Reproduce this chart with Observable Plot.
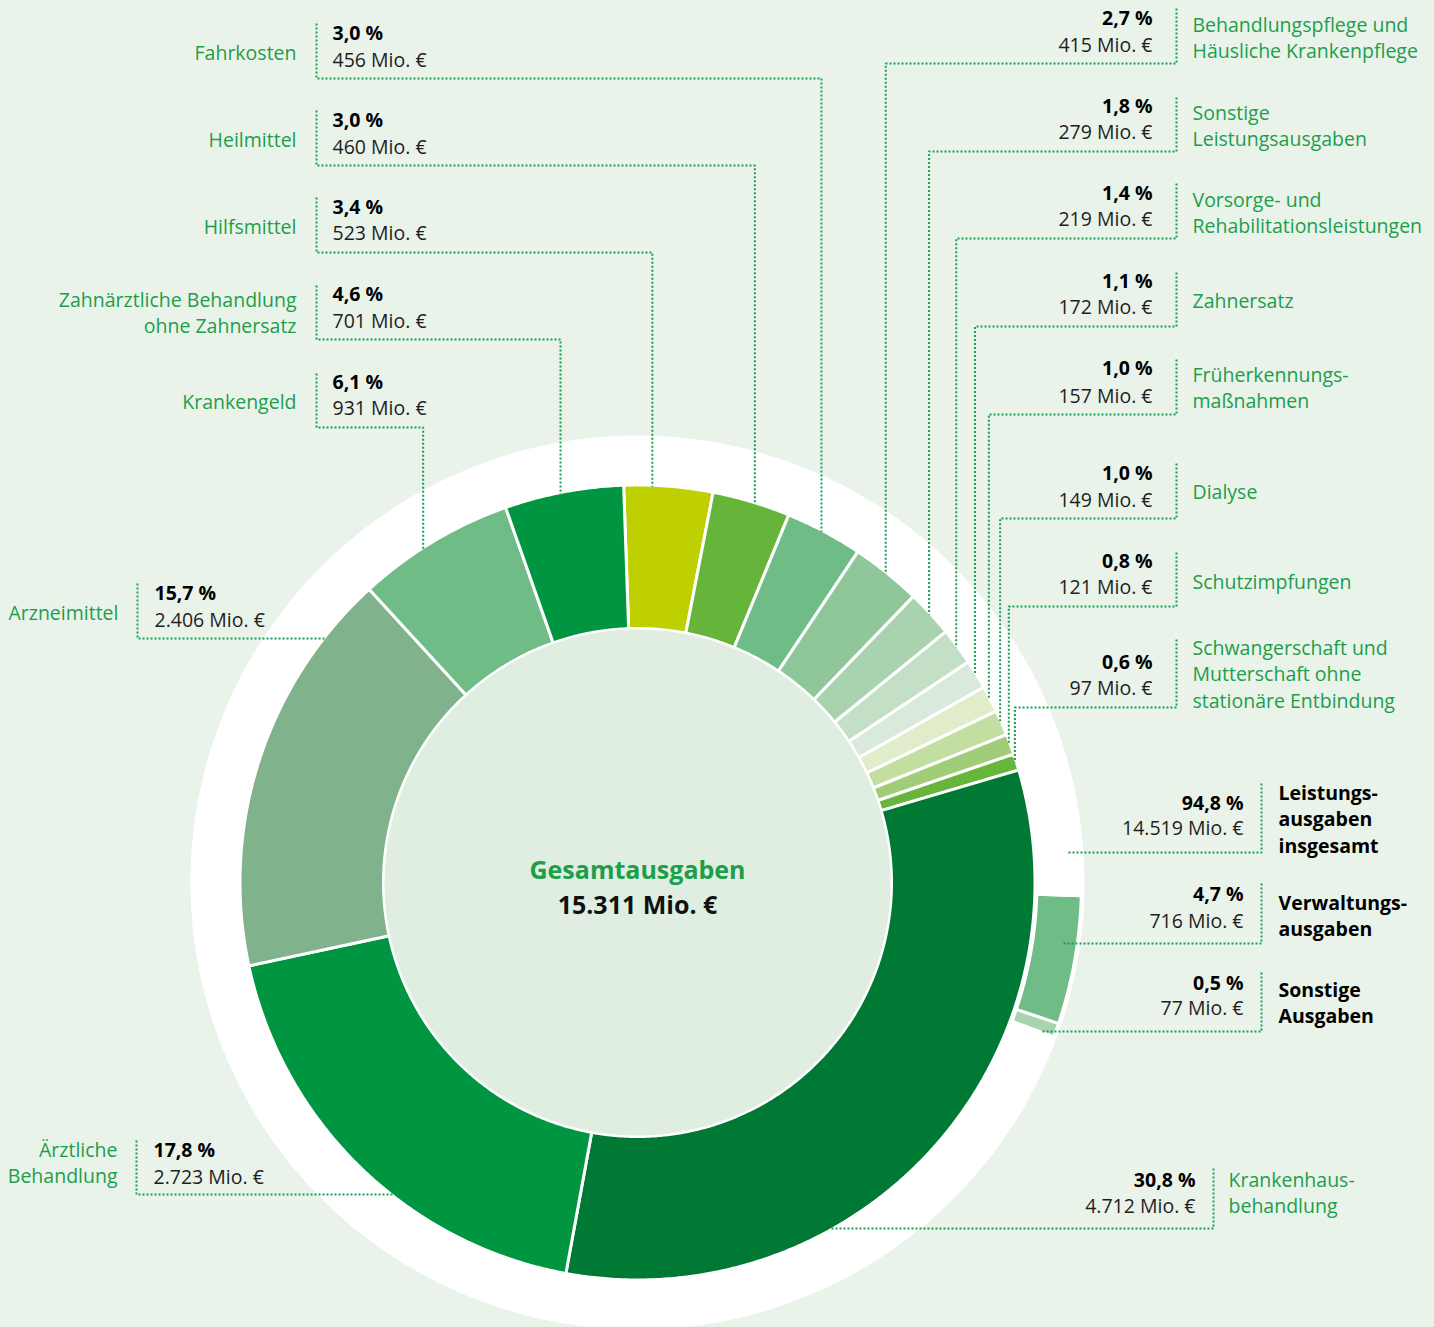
<!DOCTYPE html>
<html>
<head>
<meta charset="utf-8">
<script src="https://cdn.jsdelivr.net/npm/d3@7"></script>
<script src="https://cdn.jsdelivr.net/npm/@observablehq/plot@0.6"></script>
<style>
  html, body { margin: 0; padding: 0; background: #eaf3ea; }
  #chart svg { display: block; }
</style>
</head>
<body>
<div id="chart"></div>
<script>
// ---------- DATA ----------
// inner ring: Leistungsausgaben by type (clockwise from top)
const categories = [
  "Hilfsmittel", "Heilmittel", "Fahrkosten",
  "Behandlungspflege und\nHäusliche Krankenpflege",
  "Sonstige\nLeistungsausgaben",
  "Vorsorge- und\nRehabilitationsleistungen",
  "Zahnersatz",
  "Früherkennungs-\nmaßnahmen",
  "Dialyse", "Schutzimpfungen",
  "Schwangerschaft und\nMutterschaft ohne\nstationäre Entbindung",
  "Krankenhaus-\nbehandlung",
  "Ärztliche\nBehandlung",
  "Arzneimittel", "Krankengeld",
  "Zahnärztliche Behandlung\nohne Zahnersatz"
];
const sharePct = [3.4, 3.0, 3.0, 2.7, 1.8, 1.4, 1.1, 1.0, 1.0, 0.8, 0.6, 30.8, 17.8, 15.7, 6.1, 4.6];
const valueMio = [523, 460, 456, 415, 279, 219, 172, 157, 149, 121, 97, 4712, 2723, 2406, 931, 701];
const sliceColors = ["#bed000", "#66b43a", "#70bc86", "#8fc79a", "#a8d3ae", "#c3e0c7", "#d9eadc",
  "#e0ecca", "#c2dea0", "#a1cc78", "#68b53b", "#007934", "#009540", "#80b28b", "#70bc86", "#009540"];

// outer ring: total expenditure split
const outerCategories = ["Verwaltungs-\nausgaben", "Sonstige\nAusgaben", "Leistungs-\nausgaben\ninsgesamt"];
const outerPct = [4.7, 0.5, 94.8];
const outerMio = [716, 77, 14519];
const outerColors = ["#70bc86", "#a8d3ae", "#ffffff"];

const totalTitle = "Gesamtausgaben";
const totalMio = 15311;

// ---------- LAYOUT (positions only) ----------
const W = 1434, H = 1327, cx = 637, cy = 882;
const rHole = 254, rRing = 397.5, rOuter0 = 399.5, rOuter1 = 444, rDisc = 447, rOuterLead = 430;
const innerStart = -2.0, outerStart = 91.7;
// type: L = label left, leader down to slice; R = label right, leader down; HL/HR = horizontal leader
const innerLayout = [
  {type: "L", bx: 316, top: 197, bottom: 252, nameX: 296, valX: 332, pctY: 207, mioY: 233, nameY: 227, frac: 0.32},
  {type: "L", bx: 316, top: 110, bottom: 165, nameX: 296, valX: 332, pctY: 120, mioY: 147, nameY: 140, frac: 0.55},
  {type: "L", bx: 316, top: 23, bottom: 78, nameX: 296, valX: 332, pctY: 33, mioY: 60, nameY: 53, frac: 0.47},
  {type: "R", bx: 1176, top: 8, bottom: 63, nameX: 1192, valX: 1152, pctY: 18, mioY: 45, nameY: 25, frac: 0.5},
  {type: "R", bx: 1176, top: 97, bottom: 151, nameX: 1192, valX: 1152, pctY: 106, mioY: 132, nameY: 113, frac: 0.5},
  {type: "R", bx: 1176, top: 183, bottom: 238, nameX: 1192, valX: 1152, pctY: 193, mioY: 219, nameY: 200, frac: 0.5},
  {type: "R", bx: 1176, top: 272, bottom: 326, nameX: 1192, valX: 1152, pctY: 281, mioY: 307, nameY: 301, frac: 0.5},
  {type: "R", bx: 1176, top: 359, bottom: 414, nameX: 1192, valX: 1152, pctY: 368, mioY: 396, nameY: 375, frac: 0.5},
  {type: "R", bx: 1176, top: 463, bottom: 518, nameX: 1192, valX: 1152, pctY: 473, mioY: 500, nameY: 492, frac: 0.5},
  {type: "R", bx: 1176, top: 552, bottom: 606, nameX: 1192, valX: 1152, pctY: 561, mioY: 587, nameY: 582, frac: 0.5},
  {type: "R", bx: 1176, top: 639, bottom: 707, nameX: 1192, valX: 1152, pctY: 662, mioY: 688, nameY: 648, frac: 0.5},
  {type: "HR", bx: 1213, top: 1168, bottom: 1228, nameX: 1228, valX: 1195, pctY: 1180, mioY: 1206, nameY: 1180},
  {type: "HL", bx: 136, top: 1140, bottom: 1194, nameX: 117, valX: 153, pctY: 1150, mioY: 1177, nameY: 1150},
  {type: "HL", bx: 137, top: 583, bottom: 638, nameX: 118, valX: 154, pctY: 593, mioY: 620, nameY: 613},
  {type: "L", bx: 316, top: 373, bottom: 427, nameX: 296, valX: 332, pctY: 382, mioY: 408, nameY: 402, frac: 0.42},
  {type: "L", bx: 316, top: 285, bottom: 339, nameX: 296, valX: 332, pctY: 294, mioY: 321, nameY: 300, frac: 0.47}
];
const outerLayout = [
  {type: "O", bx: 1261, top: 883, bottom: 943, nameX: 1278, valX: 1243, pctY: 894, mioY: 921, nameY: 903},
  {type: "O", bx: 1261, top: 972, bottom: 1031, nameX: 1278, valX: 1243, pctY: 983, mioY: 1008, nameY: 990},
  {type: "O", bx: 1261, top: 783, bottom: 852, nameX: 1278, valX: 1243, pctY: 803, mioY: 828, nameY: 793}
];

const GREEN = "#1c9e4b";
const LINE_H = 26.6;
const FONT = "'Open Sans', 'Noto Sans', sans-serif";

// ---------- helpers ----------
const de = d3.formatLocale({decimal: ",", thousands: ".", grouping: [3], currency: ["", " €"]});
const fmtPct = v => de.format(".1f")(v) + " %";
const fmtMio = v => de.format(",d")(v) + " Mio. €";
const rad = a => a * Math.PI / 180;
const pt = (a, r) => [cx + r * Math.sin(rad(a)), cy - r * Math.cos(rad(a))];

function arcPoly(key, color, a0, a1, r0, r1) {
  const n = Math.max(2, Math.ceil((a1 - a0) / 0.4));
  const out = [];
  for (let i = 0; i <= n; i++) { const [x, y] = pt(a0 + (a1 - a0) * i / n, r1); out.push({key, color, x, y}); }
  if (r0 > 0) for (let i = n; i >= 0; i--) { const [x, y] = pt(a0 + (a1 - a0) * i / n, r0); out.push({key, color, x, y}); }
  return out;
}

// slices
const innerSum = d3.sum(valueMio);
const outerSum = d3.sum(outerMio);
let acc = innerStart;
const innerArcs = valueMio.map((v, i) => { const a0 = acc; acc += v / innerSum * 360; return {i, a0, a1: acc}; });
acc = outerStart;
const outerArcs = outerMio.map((v, i) => { const a0 = acc; acc += v / outerSum * 360; return {i, a0, a1: acc}; });

const innerPts = innerArcs.flatMap(s => arcPoly("in" + s.i, sliceColors[s.i], s.a0, s.a1, rHole, rRing));
const outerPts = outerArcs.flatMap(s => arcPoly("out" + s.i, outerColors[s.i], s.a0, s.a1, rOuter0, rOuter1));
const discPts = arcPoly("disc", "#ffffff", 0, 360, 0, rDisc);
const holePts = arcPoly("hole", "#e0eee1", 0, 360, 0, rHole - 1);

// leaders
const leaderPts = [];
function addLeader(key, L, arc, ringR) {
  const p = [[L.bx, L.top], [L.bx, L.bottom]];
  if (L.type === "L" || L.type === "R") {
    const a = arc.a0 + L.frac * (arc.a1 - arc.a0);
    const [ax, ay] = pt(a, ringR);
    p.push([ax, L.bottom], [ax, ay]);
  } else {
    const dy = L.bottom - cy;
    const dx = Math.sqrt(ringR * ringR - dy * dy);
    p.push([L.type === "HL" ? cx - dx : cx + dx, L.bottom]);
  }
  p.forEach(([x, y]) => leaderPts.push({key, x, y}));
}
innerLayout.forEach((L, i) => addLeader("li" + i, L, innerArcs[i], rRing - 1.5));
outerLayout.forEach((L, i) => addLeader("lo" + i, L, outerArcs[i], rOuterLead));

// texts
const texts = [];
function addTexts(name, pct, mio, L, nameColor, nameWeight) {
  const left = (L.type === "L" || L.type === "HL");
  name.split("\n").forEach((line, k) => texts.push({x: L.nameX, y: L.nameY + k * LINE_H, text: line,
    anchor: left ? "end" : "start", weight: nameWeight, color: nameColor}));
  texts.push({x: L.valX, y: L.pctY, text: fmtPct(pct), anchor: left ? "start" : "end", weight: "bold", color: "#000000"});
  texts.push({x: L.valX, y: L.mioY, text: fmtMio(mio), anchor: left ? "start" : "end", weight: "normal", color: "#1e1e1e"});
}
categories.forEach((c, i) => addTexts(c, sharePct[i], valueMio[i], innerLayout[i], GREEN, "normal"));
outerCategories.forEach((c, i) => addTexts(c, outerPct[i], outerMio[i], outerLayout[i], "#000000", "bold"));

const textMarks = [];
for (const anchor of ["start", "end"]) for (const weight of ["normal", "bold"]) {
  const d = texts.filter(t => t.anchor === anchor && t.weight === weight);
  if (d.length) textMarks.push(Plot.text(d, {x: "x", y: "y", text: "text", fill: "color", textAnchor: anchor,
    fontWeight: weight, fontSize: 19.5, fontFamily: FONT, lineAnchor: "middle"}));
}
const centerTexts = [
  {x: cx, y: 870, text: totalTitle, color: GREEN},
  {x: cx, y: 905, text: fmtMio(totalMio), color: "#111111"}
];

const chart = Plot.plot({
  width: W, height: H, margin: 0,
  x: {domain: [0, W], range: [0, W], axis: null},
  y: {domain: [0, H], range: [0, H], axis: null},
  color: {type: "identity"},
  style: {background: "#eaf3ea", fontFamily: FONT},
  marks: [
    Plot.line(discPts, {x: "x", y: "y", z: "key", fill: "color", stroke: "none", curve: "linear-closed"}),
    Plot.line(innerPts, {x: "x", y: "y", z: "key", fill: "color", stroke: "#ffffff", strokeWidth: 3, curve: "linear-closed"}),
    Plot.line(holePts, {x: "x", y: "y", z: "key", fill: "color", stroke: "none", curve: "linear-closed"}),
    Plot.line(outerPts, {x: "x", y: "y", z: "key", fill: "color", stroke: "#ffffff", strokeWidth: 3, curve: "linear-closed"}),
    Plot.line(leaderPts, {x: "x", y: "y", z: "key", stroke: "#17a050", strokeWidth: 2, strokeDasharray: "2 2", strokeLinecap: "butt", curve: "linear"}),
    ...textMarks,
    Plot.text(centerTexts, {x: "x", y: "y", text: "text", fill: "color", fontWeight: "bold", fontSize: 25, fontFamily: FONT, lineAnchor: "middle"})
  ]
});
document.getElementById("chart").appendChild(chart);
</script>
</body>
</html>
